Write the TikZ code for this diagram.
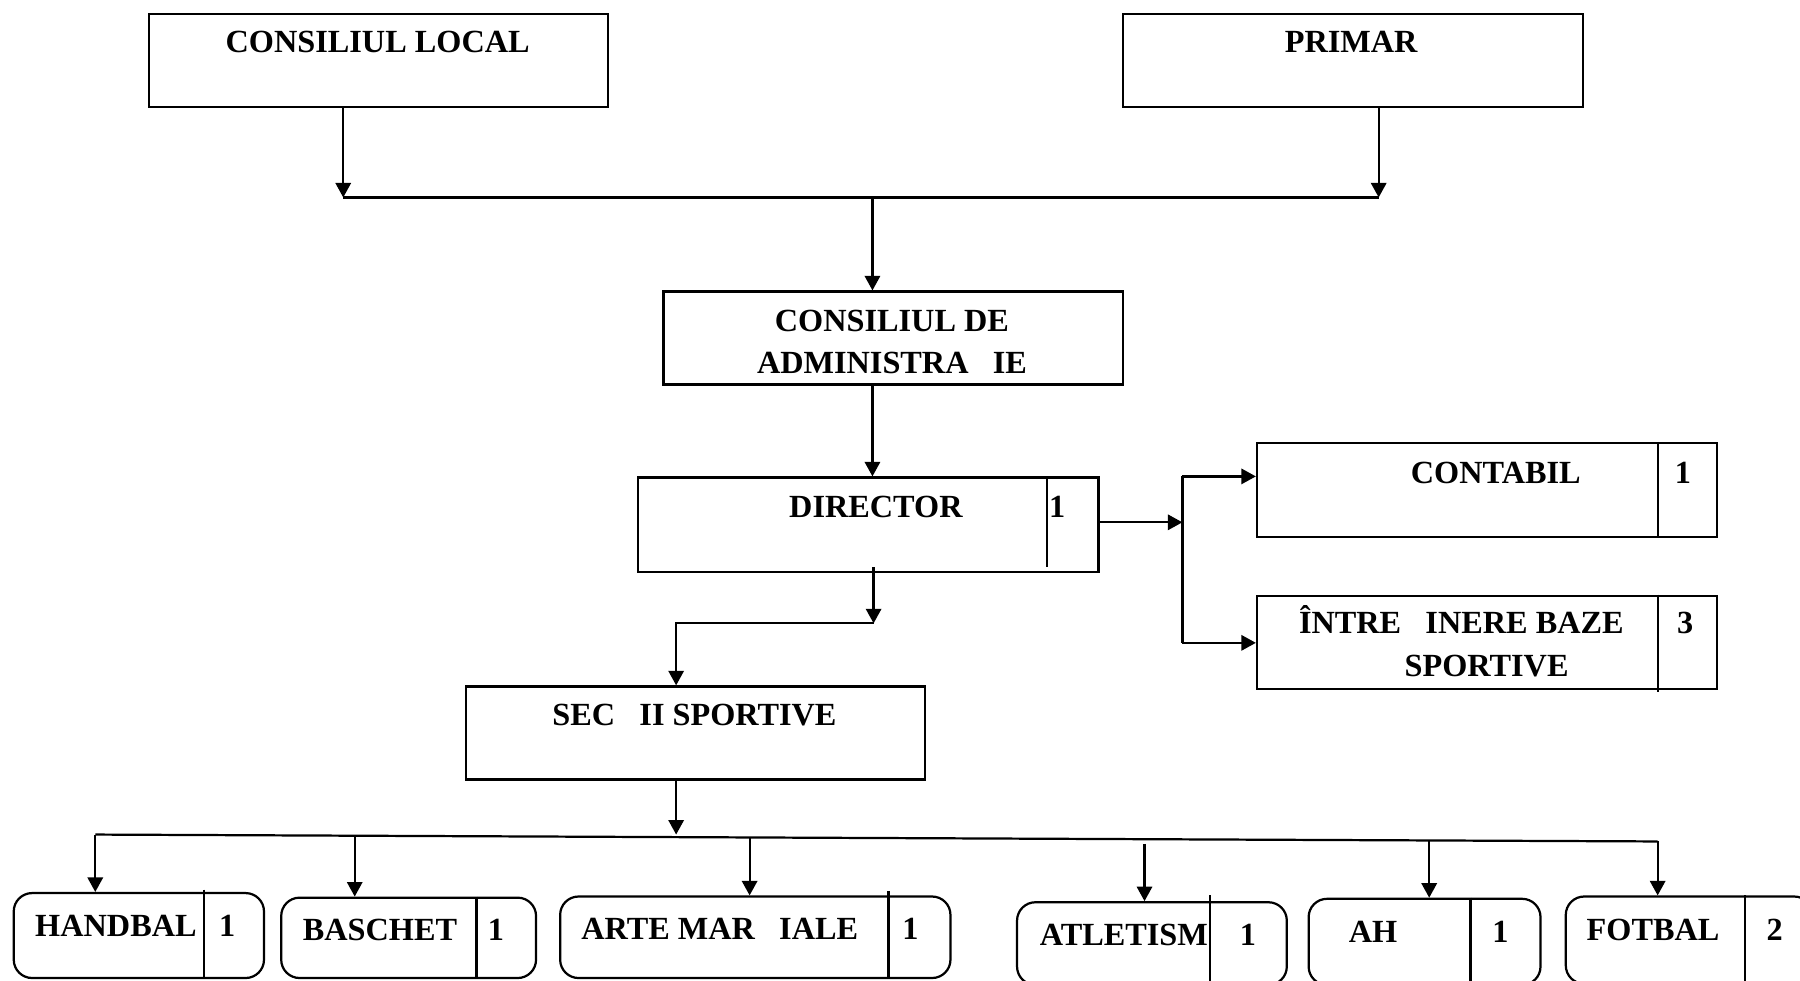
\documentclass[tikz,border=0pt]{standalone}
\usepackage{fontspec}
\setmainfont{Liberation Serif}
\usetikzlibrary{arrows.meta,calc}
\begin{document}
\begin{tikzpicture}[x=0.1mm,y=-0.1mm,
  box/.style={draw,line width=0.55pt,inner sep=0pt,anchor=north west},
  rbox/.style={box,rounded corners=1.6mm},
  lab/.style={font=\fontsize{8}{9.6}\selectfont\bfseries,inner sep=0pt,anchor=base},
  wire/.style={line width=0.55pt},
  arr/.style={wire,-{Triangle[length=3.6pt,width=3.8pt]}},
  div/.style={line width=0.55pt}]
\useasboundingbox (0,0) rectangle (1568,854);
% boxes
\node[box,minimum width=40mm,minimum height=8.1mm] (cl) at (129,11) {};
\node[box,minimum width=40.1mm,minimum height=8.1mm] (pr) at (977,11) {};
\node[box,minimum width=40mm,minimum height=8.1mm] (cda) at (577,253) {};
\node[box,minimum width=40.1mm,minimum height=8.2mm] (dir) at (555,415) {};
\node[box,minimum width=40.1mm,minimum height=8.2mm] (cont) at (1094,385) {};
\node[box,minimum width=40.1mm,minimum height=8.1mm] (intr) at (1094,518) {};
\node[box,minimum width=40mm,minimum height=8.1mm] (sec) at (405,597) {};
\node[rbox,minimum width=21.8mm,minimum height=7.4mm] (hb) at (11,777) {};
\node[rbox,minimum width=22.2mm,minimum height=7.0mm] (bs) at (244,781) {};
\node[rbox,minimum width=34mm,minimum height=7.1mm] (am) at (487,780) {};
\node[rbox,minimum width=23.5mm,minimum height=7.2mm] (at) at (885,785) {};
\node[rbox,minimum width=20.2mm,minimum height=7.5mm] (ah) at (1139,782) {};
\node[rbox,minimum width=21.5mm,minimum height=7.6mm] (fb) at (1363,780) {};
% dividers
\draw[div] ($(dir.north west)+(357,0)$) -- ($(dir.south west)+(357,-5)$);
\draw[div] ($(cont.north west)+(350,0)$) -- ($(cont.south west)+(350,0)$);
\draw[div] ($(intr.north west)+(350,0)$) -- ($(intr.south west)+(350,2)$);
\draw[div] ($(hb.north west)+(167,-2)$) -- ($(hb.south west)+(167,0)$);
\draw[div] ($(bs.north west)+(171,0)$) -- ($(bs.south west)+(171,0)$);
\draw[div] ($(am.north west)+(287,-4)$) -- ($(am.south west)+(287,0)$);
\draw[div] ($(at.north west)+(169,-5)$) -- ($(at.south west)+(169,0)$);
\draw[div] ($(ah.north west)+(142,0)$) -- ($(ah.south west)+(142,0)$);
\draw[div] ($(fb.north west)+(157,0)$) -- ($(fb.south west)+(157,0)$);
% labels
\node[lab] (tcl) at (329,46) {CONSILIUL LOCAL};
\node[lab] (tpr) at (1177,46) {PRIMAR};
\node[lab] (tcda1) at (777,289) {CONSILIUL DE};
\node[lab] (tcda2) at (777,325) {ADMINISTRA\hspace{0.75em}IE};
\node[lab] (tdir) at (763,451) {DIRECTOR};
\node[lab] (ndir) at (921,451) {1};
\node[lab] (tcont) at (1303,421) {CONTABIL};
\node[lab] (ncont) at (1466,421) {1};
\node[lab] (tintr1) at (1273,552) {ÎNTRE\hspace{0.75em}INERE BAZE};
\node[lab] (tintr2) at (1295,589) {SPORTIVE};
\node[lab] (nintr) at (1468,552) {3};
\node[lab] (tsec) at (605,632) {SEC\hspace{0.75em}II SPORTIVE};
\node[lab] (thb) at (101,816) {HANDBAL};
\node[lab] (nhb) at (198,816) {1};
\node[lab] (tbs) at (331,819) {BASCHET};
\node[lab] (nbs) at (432,819) {1};
\node[lab] (tam) at (627,818) {ARTE MAR\hspace{0.75em}IALE};
\node[lab] (nam) at (793,818) {1};
\node[lab] (tat) at (979,824) {ATLETISM};
\node[lab] (nat) at (1087,824) {1};
\node[lab] (tah) at (1196,821) {AH};
\node[lab] (nah) at (1307,821) {1};
\node[lab] (tfb) at (1440,819) {FOTBAL};
\node[lab] (nfb) at (1546,819) {2};
% junction coordinates
\coordinate (j1) at (299,172);
\coordinate (j2) at (1201,172);
\coordinate (j3) at (760,172);
\coordinate (d1) at (761,543);
\coordinate (d2) at (589,543);
\coordinate (r0) at (1030,455);
\coordinate (r1) at (1030,415);
\coordinate (r2) at (1030,560);
\coordinate (b0) at (589,727);
\coordinate (bl) at (83,727);
\coordinate (b2) at (309,728);
\coordinate (b3) at (653,730);
\coordinate (b4) at (997,731);
\coordinate (b5) at (1245,732);
\coordinate (br) at (1444,733);
% connectors
\draw[arr] (cl.south -| j1) -- (j1);
\draw[arr] (pr.south -| j2) -- (j2);
\draw[wire] (j1) -- (j2);
\draw[arr] (j3) -- (cda.north -| j3);
\draw[arr] (cda.south -| j3) -- (dir.north -| j3);
\draw[arr] (dir.east |- r0) -- (r0);
\draw[wire] (r1) -- (r2);
\draw[arr] (r1) -- (cont.west |- r1);
\draw[arr] (r2) -- (intr.west |- r2);
\draw[arr] ($(dir.south -| d1)+(0,-5)$) -- (d1);
\draw[arr] (d1) -- (d2) -- (sec.north -| d2);
\draw[arr] (sec.south -| b0) -- (b0);
\draw[wire] (bl) -- (br);
\draw[arr] (bl) -- (hb.north -| bl);
\draw[arr] (b2) -- (bs.north -| b2);
\draw[arr] (b3) -- (am.north -| b3);
\draw[arr] ($(b4)+(0,4)$) -- (at.north -| b4);
\draw[arr] (b5) -- (ah.north -| b5);
\draw[arr] (br) -- (fb.north -| br);
\end{tikzpicture}
\end{document}
